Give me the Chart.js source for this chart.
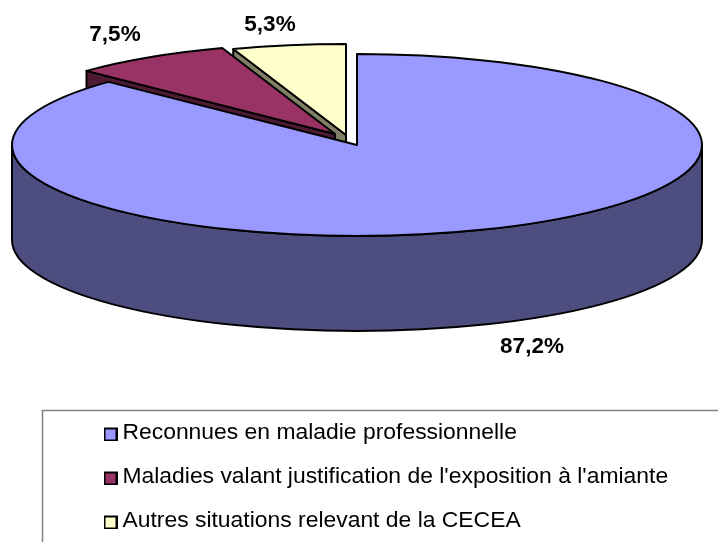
<!DOCTYPE html>
<html><head><meta charset="utf-8">
<style>html,body{margin:0;padding:0;background:#fff;overflow:hidden}canvas{display:block}</style>
<script src="https://cdn.jsdelivr.net/npm/chart.js@4"></script>
</head><body><canvas id="c" width="718" height="542"></canvas>
<script>
const categories = ["Reconnues en maladie professionnelle","Maladies valant justification de l'exposition à l'amiante","Autres situations relevant de la CECEA"];
const shares = [87.2, 7.5, 5.3];
const topColors = ['#9999FF','#993366','#FFFFCC'];
const sideColors = ['#4D4D80','#4D1933','#808066'];
const explodeX = [0,-22,-11];
const explodeY = [0,-11,-10];
const labelX = [532,115,270];
const labelY = [347,35,25];

const CX=357, CY=145, RX=345, RY=91, DEPTH=95;
const FONT='"Liberation Sans", Arial, sans-serif';

function swatch(color){
  const s=document.createElement('canvas'); s.width=14; s.height=18;
  const g=s.getContext('2d');
  g.fillStyle=color; g.fillRect(0,4,14,14);
  g.strokeStyle='#000'; g.lineWidth=2; g.strokeRect(1,5,12,12);
  return s;
}

const pie3d = {
  id:'pie3d',
  afterLayout(chart){
    const l=chart.legend, pad=l.options.labels.padding;
    l.left=110-pad; l.top=421-pad; l.right=718; l.bottom=600;
  },
  beforeDraw(chart){
    const c=chart.ctx;
    c.save();
    c.strokeStyle='#808080'; c.lineWidth=1.5;
    c.beginPath(); c.moveTo(42.5,542); c.lineTo(42.5,410.5); c.lineTo(718,410.5); c.stroke();
    c.restore();
  },
  beforeDatasetDraw(chart){
    const c=chart.ctx, arcs=chart.getDatasetMeta(0).data;
    const place=i=>({x:CX+explodeX[i],y:CY+explodeY[i]});
    c.save();
    c.lineWidth=2; c.strokeStyle='#000'; c.lineJoin='round';
    const ptx=(i,a)=>place(i).x+RX*Math.cos(a), pty=(i,a)=>place(i).y+RY*Math.sin(a);
    for(let i=arcs.length-1;i>=1;i--){
      const p=place(i), a=arcs[i].startAngle;
      c.beginPath();
      c.moveTo(p.x,p.y); c.lineTo(ptx(i,a),pty(i,a));
      c.lineTo(ptx(i,a),pty(i,a)+DEPTH); c.lineTo(p.x,p.y+DEPTH); c.closePath();
      c.fillStyle=sideColors[i]; c.fill(); c.stroke();
    }
    {
      const p=place(0);
      c.beginPath();
      c.ellipse(p.x,p.y,RX,RY,0,0,Math.PI,false);
      c.ellipse(p.x,p.y+DEPTH,RX,RY,0,Math.PI,0,true);
      c.closePath();
      c.fillStyle=sideColors[0]; c.fill(); c.stroke();
    }
    arcs.forEach((arc,i)=>{
      const p=place(i), R=arc.outerRadius;
      c.save();
      c.translate(p.x,p.y); c.scale(RX/R,RY/R); c.translate(-arc.x,-arc.y);
      arc.draw(c);
      c.restore();
      c.beginPath();
      c.moveTo(p.x,p.y);
      c.ellipse(p.x,p.y,RX,RY,0,arc.startAngle,arc.endAngle,false);
      c.closePath(); c.stroke();
    });
    c.restore();
    return false;
  },
  afterDraw(chart){
    const c=chart.ctx;
    c.save();
    c.fillStyle='#000'; c.font='bold 22.5px '+FONT; c.textAlign='center'; c.textBaseline='middle';
    shares.forEach((v,i)=>c.fillText(v.toFixed(1).replace('.',',')+'%',labelX[i],labelY[i]));
    c.restore();
  }
};

new Chart(document.getElementById('c'),{
  type:'pie',
  data:{labels:categories,datasets:[{data:shares,backgroundColor:topColors,borderWidth:0,radius:200}]},
  options:{
    responsive:false,animation:false,events:[],
    plugins:{
      tooltip:{enabled:false},
      legend:{
        position:'left',align:'start',maxWidth:700,
        labels:{
          color:'#000',padding:21.1,usePointStyle:true,pointStyleWidth:1,boxWidth:1,boxHeight:14,
          font:{family:FONT,size:22.9},
          generateLabels:ch=>ch.data.labels.map((t,i)=>({text:t,pointStyle:swatch(topColors[i]),fillStyle:topColors[i],strokeStyle:'#000',lineWidth:0,index:i}))
        }
      }
    }
  },
  plugins:[pie3d]
});
</script></body></html>
